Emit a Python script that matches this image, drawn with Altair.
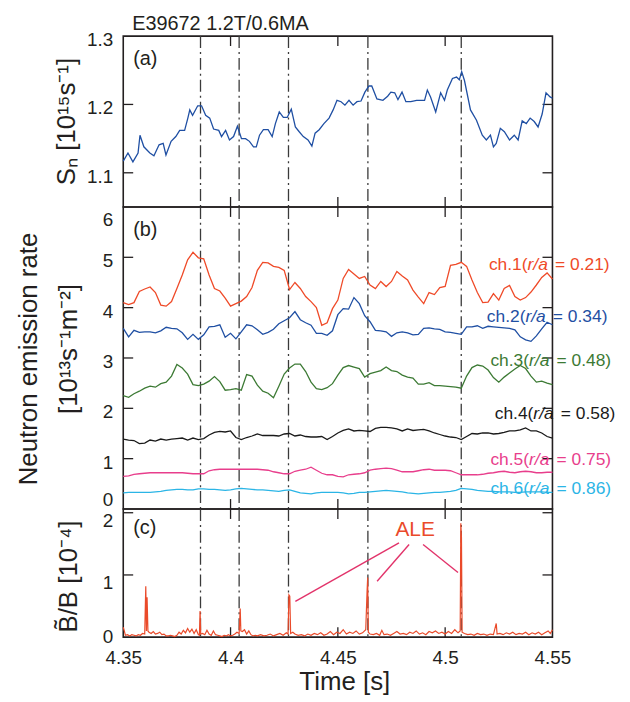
import altair as alt
import pandas as pd

FONT = "Liberation Sans"
INK = "#231f20"

T_DOMAIN = [4.35, 4.55]
W = 432
H_A, H_B, H_C = 172, 304, 129

EVENT_T = [4.386, 4.404, 4.427, 4.464, 4.5075]
XTICKS_INNER = [4.40, 4.45, 4.50]
XLABELS = [4.35, 4.4, 4.45, 4.5, 4.55]

# y tick labels (value, text)
YA_VALS, YA_TXT = [1.1, 1.2, 1.3], ["1.1", "1.2", "1.3"]
YB_VALS, YB_TXT = [1, 2, 3, 4, 5], ["1", "2", "3", "4", "5"]
YB_END_VALS, YB_END_TXT = [0, 6], ["0", "6"]
YC_VALS, YC_TXT = [1, 2], ["1", "2"]
YC_ZERO_VALS, YC_ZERO_TXT = [0], ["0"]

# ---------------- panel (a): total neutron rate ----------------
SN_T = [4.3500, 4.3522, 4.3545, 4.3569, 4.3578, 4.3596, 4.3624, 4.3643, 4.3667, 4.3686,
        4.3699, 4.3723, 4.3745, 4.3763, 4.3786, 4.3801, 4.3810, 4.3823, 4.3847, 4.3865,
        4.3884, 4.3903, 4.3921, 4.3945, 4.3958, 4.3977, 4.3995, 4.4014, 4.4032, 4.4051,
        4.4070, 4.4088, 4.4107, 4.4120, 4.4135, 4.4153, 4.4175, 4.4194, 4.4209, 4.4227,
        4.4246, 4.4264, 4.4283, 4.4302, 4.4320, 4.4339, 4.4361, 4.4379, 4.4394, 4.4413,
        4.4435, 4.4459, 4.4478, 4.4496, 4.4515, 4.4533, 4.4552, 4.4571, 4.4589, 4.4608,
        4.4626, 4.4645, 4.4658, 4.4682, 4.4710, 4.4732, 4.4747, 4.4765, 4.4780, 4.4799,
        4.4817, 4.4840, 4.4867, 4.4904, 4.4917, 4.4932, 4.4956, 4.4979, 4.4997, 4.5010,
        4.5034, 4.5053, 4.5066, 4.5077, 4.5090, 4.5118, 4.5146, 4.5173, 4.5192, 4.5211,
        4.5225, 4.5238, 4.5257, 4.5276, 4.5300, 4.5322, 4.5340, 4.5359, 4.5378, 4.5396,
        4.5415, 4.5433, 4.5452, 4.5470, 4.5489, 4.5500]
SN_V = [1.117, 1.129, 1.116, 1.129, 1.155, 1.138, 1.129, 1.125, 1.141, 1.143,
        1.126, 1.146, 1.153, 1.162, 1.162, 1.180, 1.192, 1.184, 1.198, 1.198,
        1.184, 1.180, 1.164, 1.162, 1.153, 1.162, 1.148, 1.153, 1.168, 1.150,
        1.150, 1.146, 1.138, 1.138, 1.155, 1.163, 1.163, 1.153, 1.172, 1.189,
        1.181, 1.181, 1.193, 1.167, 1.160, 1.153, 1.148, 1.139, 1.158, 1.163,
        1.172, 1.180, 1.192, 1.206, 1.204, 1.199, 1.206, 1.199, 1.204, 1.205,
        1.218, 1.227, 1.227, 1.208, 1.206, 1.212, 1.218, 1.217, 1.207, 1.218,
        1.204, 1.204, 1.206, 1.206, 1.221, 1.211, 1.189, 1.217, 1.206, 1.221,
        1.238, 1.240, 1.236, 1.248, 1.235, 1.192, 1.177, 1.155, 1.148, 1.155,
        1.138, 1.143, 1.165, 1.160, 1.148, 1.155, 1.148, 1.176, 1.172, 1.180,
        1.175, 1.167, 1.186, 1.217, 1.211, 1.209]

# ---------------- panel (b): six channels ----------------
GRID_T = [4.3500, 4.3525, 4.3550, 4.3575, 4.3600, 4.3625, 4.3650, 4.3675, 4.3700, 4.3725,
          4.3750, 4.3775, 4.3800, 4.3825, 4.3850, 4.3875, 4.3900, 4.3925, 4.3950, 4.3975,
          4.4000, 4.4025, 4.4050, 4.4075, 4.4100, 4.4125, 4.4150, 4.4175, 4.4200, 4.4225,
          4.4250, 4.4275, 4.4300, 4.4325, 4.4350, 4.4375, 4.4400, 4.4425, 4.4450, 4.4475,
          4.4500, 4.4525, 4.4550, 4.4575, 4.4600, 4.4625, 4.4650, 4.4675, 4.4700, 4.4725,
          4.4750, 4.4775, 4.4800, 4.4825, 4.4850, 4.4875, 4.4900, 4.4925, 4.4950, 4.4975,
          4.5000, 4.5025, 4.5050, 4.5075, 4.5100, 4.5125, 4.5150, 4.5175, 4.5200, 4.5225,
          4.5250, 4.5275, 4.5300, 4.5325, 4.5350, 4.5375, 4.5400, 4.5425, 4.5450, 4.5475,
          4.5500]
CH1 = [4.10, 4.06, 4.10, 4.32, 4.37, 4.41, 4.30, 4.05, 4.03, 4.12,
       4.38, 4.65, 4.95, 5.10, 4.99, 4.97, 4.65, 4.38, 4.33, 4.19,
       4.03, 4.08, 4.13, 4.22, 4.40, 4.74, 4.90, 4.89, 4.82, 4.80,
       4.74, 4.36, 4.50, 4.38, 4.22, 4.12, 4.00, 3.65, 3.70, 3.98,
       4.15, 4.58, 4.76, 4.67, 4.58, 4.62, 4.45, 4.38, 4.52, 4.42,
       4.52, 4.72, 4.63, 4.55, 4.35, 4.21, 4.08, 4.30, 4.26, 4.40,
       4.42, 4.84, 4.86, 4.90, 4.82, 4.55, 4.30, 4.10, 4.11, 4.28,
       4.15, 4.38, 4.44, 4.22, 4.15, 4.20, 4.31, 4.45, 4.60, 4.69,
       4.57]
CH2 = [3.59, 3.42, 3.55, 3.51, 3.52, 3.52, 3.50, 3.54, 3.61, 3.59,
       3.58, 3.50, 3.37, 3.47, 3.37, 3.46, 3.62, 3.63, 3.66, 3.41,
       3.49, 3.38, 3.52, 3.66, 3.64, 3.56, 3.47, 3.51, 3.57, 3.68,
       3.74, 3.80, 3.92, 3.76, 3.70, 3.65, 3.49, 3.49, 3.45, 3.54,
       3.86, 3.98, 3.97, 4.20, 4.08, 3.84, 3.72, 3.55, 3.54, 3.52,
       3.43, 3.50, 3.52, 3.50, 3.46, 3.47, 3.59, 3.60, 3.58, 3.57,
       3.52, 3.51, 3.49, 3.47, 3.62, 3.62, 3.64, 3.59, 3.63, 3.62,
       3.61, 3.60, 3.59, 3.56, 3.42, 3.36, 3.33, 3.44, 3.58, 3.71,
       3.66]
CH3 = [2.25, 2.22, 2.29, 2.34, 2.40, 2.44, 2.42, 2.49, 2.52, 2.64,
       2.87, 2.80, 2.68, 2.47, 2.45, 2.48, 2.54, 2.63, 2.53, 2.36,
       2.37, 2.39, 2.36, 2.67, 2.64, 2.46, 2.34, 2.30, 2.21, 2.44,
       2.68, 2.80, 2.88, 2.88, 2.73, 2.52, 2.39, 2.37, 2.41, 2.49,
       2.66, 2.81, 2.85, 2.82, 2.79, 2.62, 2.69, 2.72, 2.75, 2.82,
       2.75, 2.73, 2.66, 2.62, 2.60, 2.48, 2.48, 2.51, 2.45, 2.45,
       2.44, 2.43, 2.42, 2.40, 2.64, 2.81, 2.86, 2.84, 2.76, 2.61,
       2.52, 2.62, 2.70, 2.78, 2.85, 2.79, 2.64, 2.52, 2.54, 2.50,
       2.47]
CH4 = [1.39, 1.37, 1.36, 1.30, 1.31, 1.37, 1.35, 1.39, 1.37, 1.39,
       1.40, 1.41, 1.37, 1.41, 1.38, 1.40, 1.47, 1.52, 1.54, 1.53,
       1.55, 1.42, 1.38, 1.42, 1.45, 1.49, 1.46, 1.46, 1.46, 1.45,
       1.49, 1.50, 1.45, 1.47, 1.44, 1.43, 1.43, 1.44, 1.38, 1.44,
       1.51, 1.56, 1.59, 1.55, 1.56, 1.55, 1.54, 1.60, 1.62, 1.62,
       1.61, 1.59, 1.55, 1.59, 1.56, 1.57, 1.58, 1.55, 1.51, 1.48,
       1.45, 1.43, 1.42, 1.38, 1.44, 1.50, 1.49, 1.51, 1.51, 1.49,
       1.50, 1.52, 1.55, 1.55, 1.57, 1.61, 1.55, 1.55, 1.51, 1.44,
       1.41]
CH5 = [0.65, 0.66, 0.69, 0.70, 0.71, 0.72, 0.72, 0.72, 0.72, 0.72,
       0.72, 0.72, 0.71, 0.70, 0.70, 0.70, 0.76, 0.78, 0.79, 0.79,
       0.79, 0.79, 0.79, 0.79, 0.79, 0.79, 0.78, 0.77, 0.74, 0.72,
       0.70, 0.70, 0.75, 0.77, 0.79, 0.83, 0.77, 0.71, 0.68, 0.68,
       0.65, 0.64, 0.68, 0.69, 0.70, 0.72, 0.77, 0.79, 0.80, 0.81,
       0.80, 0.77, 0.74, 0.74, 0.74, 0.76, 0.78, 0.79, 0.77, 0.77,
       0.77, 0.76, 0.72, 0.68, 0.68, 0.68, 0.68, 0.69, 0.71, 0.72,
       0.74, 0.75, 0.73, 0.72, 0.74, 0.75, 0.74, 0.72, 0.72, 0.73,
       0.73]
CH6 = [0.32, 0.33, 0.33, 0.33, 0.33, 0.33, 0.34, 0.35, 0.37, 0.38,
       0.39, 0.39, 0.38, 0.38, 0.40, 0.40, 0.39, 0.39, 0.38, 0.37,
       0.38, 0.40, 0.41, 0.40, 0.39, 0.38, 0.38, 0.37, 0.36, 0.35,
       0.37, 0.38, 0.35, 0.32, 0.31, 0.30, 0.32, 0.33, 0.33, 0.33,
       0.33, 0.32, 0.30, 0.31, 0.33, 0.33, 0.34, 0.35, 0.36, 0.37,
       0.36, 0.35, 0.34, 0.32, 0.31, 0.30, 0.31, 0.32, 0.33, 0.33,
       0.34, 0.35, 0.37, 0.41, 0.40, 0.39, 0.37, 0.36, 0.35, 0.35,
       0.34, 0.34, 0.34, 0.33, 0.33, 0.34, 0.34, 0.34, 0.34, 0.33,
       0.33]
CH_NAMES = ["ch.1", "ch.2", "ch.3", "ch.4", "ch.5", "ch.6"]
CH_COLORS = ["#ef4a28", "#1f4fa3", "#3c7a34", "#1a1a1a", "#e83e8c", "#2bb5e6"]
CH_RA = ["0.21", "0.34", "0.48", "0.58", "0.75", "0.86"]
LABEL_T = [4.5204, 4.5194, 4.5211, 4.5231, 4.5211, 4.5211]
LABEL_V = [4.84, 3.81, 2.93, 1.89, 0.97, 0.40]

# ---------------- panel (c): magnetic fluctuation ----------------
DB_T = [4.3500, 4.3505, 4.3510, 4.3520, 4.3530, 4.3540, 4.3550, 4.3560, 4.3570, 4.3580,
        4.3590, 4.3600, 4.3605, 4.3608, 4.3611, 4.3615, 4.3620, 4.3630, 4.3640, 4.3650,
        4.3660, 4.3670, 4.3680, 4.3690, 4.3700, 4.3710, 4.3720, 4.3730, 4.3740, 4.3750,
        4.3760, 4.3770, 4.3780, 4.3790, 4.3800, 4.3810, 4.3820, 4.3830, 4.3840, 4.3850,
        4.3855, 4.3858, 4.3861, 4.3870, 4.3880, 4.3890, 4.3900, 4.3910, 4.3920, 4.3930,
        4.3940, 4.3950, 4.3960, 4.3970, 4.3980, 4.3990, 4.4000, 4.4010, 4.4020, 4.4030,
        4.4040, 4.4045, 4.4048, 4.4055, 4.4065, 4.4075, 4.4085, 4.4095, 4.4105, 4.4115,
        4.4125, 4.4140, 4.4155, 4.4170, 4.4185, 4.4200, 4.4215, 4.4230, 4.4245, 4.4260,
        4.4268, 4.4272, 4.4276, 4.4280, 4.4290, 4.4300, 4.4315, 4.4330, 4.4345, 4.4360,
        4.4375, 4.4390, 4.4405, 4.4420, 4.4435, 4.4450, 4.4465, 4.4480, 4.4495, 4.4510,
        4.4525, 4.4540, 4.4555, 4.4570, 4.4585, 4.4600, 4.4615, 4.4630, 4.4636, 4.4639,
        4.4642, 4.4650, 4.4665, 4.4680, 4.4695, 4.4705, 4.4715, 4.4730, 4.4745, 4.4760,
        4.4775, 4.4790, 4.4805, 4.4820, 4.4835, 4.4850, 4.4865, 4.4880, 4.4895, 4.4910,
        4.4925, 4.4940, 4.4955, 4.4970, 4.4985, 4.5000, 4.5015, 4.5030, 4.5045, 4.5060,
        4.5070, 4.5073, 4.5076, 4.5079, 4.5090, 4.5105, 4.5120, 4.5135, 4.5150, 4.5165,
        4.5180, 4.5195, 4.5210, 4.5225, 4.5238, 4.5242, 4.5255, 4.5270, 4.5285, 4.5300,
        4.5315, 4.5330, 4.5345, 4.5360, 4.5375, 4.5390, 4.5405, 4.5420, 4.5435, 4.5450,
        4.5465, 4.5480, 4.5490, 4.5500]
DB_V = [0.16, 0.10, 0.03, 0.04, 0.02, 0.04, 0.03, 0.02, 0.04, 0.03,
        0.06, 0.05, 0.82, 0.10, 0.64, 0.10, 0.08, 0.06, 0.09, 0.05,
        0.06, 0.08, 0.04, 0.05, 0.02, 0.02, 0.03, 0.02, 0.01, 0.03,
        0.08, 0.05, 0.11, 0.07, 0.14, 0.08, 0.13, 0.06, 0.12, 0.04,
        0.03, 0.42, 0.05, 0.06, 0.04, 0.11, 0.05, 0.03, 0.10, 0.04,
        0.03, 0.02, 0.01, 0.03, 0.02, 0.04, 0.02, 0.03, 0.05, 0.08,
        0.06, 0.46, 0.10, 0.09, 0.12, 0.05, 0.10, 0.04, 0.02, 0.03,
        0.02, 0.04, 0.02, 0.03, 0.05, 0.02, 0.04, 0.06, 0.03, 0.07,
        0.05, 0.68, 0.66, 0.06, 0.08, 0.05, 0.03, 0.04, 0.02, 0.05,
        0.03, 0.06, 0.04, 0.07, 0.03, 0.05, 0.09, 0.04, 0.08, 0.06,
        0.12, 0.05, 0.08, 0.06, 0.10, 0.05, 0.07, 0.12, 0.72, 0.96,
        0.08, 0.05, 0.04, 0.06, 0.03, 0.11, 0.04, 0.05, 0.03, 0.06,
        0.09, 0.05, 0.06, 0.04, 0.08, 0.06, 0.10, 0.05, 0.07, 0.04,
        0.09, 0.07, 0.10, 0.06, 0.08, 0.05, 0.09, 0.06, 0.12, 0.07,
        0.10, 1.83, 1.60, 0.08, 0.06, 0.04, 0.05, 0.03, 0.06, 0.04,
        0.05, 0.03, 0.05, 0.04, 0.22, 0.05, 0.06, 0.04, 0.07, 0.05,
        0.08, 0.04, 0.06, 0.05, 0.08, 0.04, 0.07, 0.05, 0.08, 0.04,
        0.07, 0.10, 0.06, 0.12]

ALE_TEXT_T, ALE_TEXT_V = [4.486], [1.72]
ALE_T1 = [4.4785, 4.4832, 4.4897]
ALE_V1 = [1.515, 1.49, 1.49]
ALE_T2 = [4.4302, 4.4683, 4.5060]
ALE_V2 = [0.574, 0.90, 1.04]

xs = alt.Scale(domain=T_DOMAIN, nice=False, zero=False)

X_NOLABEL = alt.Axis(values=XTICKS_INNER, labels=False, ticks=False, domain=False, grid=False, title=None)
X_LABELED = alt.Axis(values=XLABELS, format=".2~f", ticks=False, domain=False, grid=False,
                     labelPadding=12, labelFlush=False, labelOverlap=False, title=None,
                     labelFont=FONT, labelFontSize=19, labelColor=INK)


def frame_layers(ys, xax, yticks, h):
    """event lines and inward tick marks, all placed through the scales"""
    xt = pd.DataFrame({"t": XTICKS_INNER})
    yt = pd.DataFrame({"v": yticks})
    ev = pd.DataFrame({"t": EVENT_T})
    tick_style = dict(color=INK, strokeWidth=1.3)
    X = lambda: alt.X("t:Q", scale=xs, axis=xax)
    Y = lambda: alt.Y("v:Q", scale=ys, axis=None)
    return [
        alt.Chart(ev).mark_rule(color="#3a3a3a", strokeWidth=1.3, strokeDash=[12, 4, 2, 4]).encode(
            x=X(), y=alt.value(0), y2=alt.value(h)),
        alt.Chart(xt).mark_rule(**tick_style).encode(x=X(), y=alt.value(0), y2=alt.value(10)),
        alt.Chart(xt).mark_rule(**tick_style).encode(x=X(), y=alt.value(h - 10), y2=alt.value(h)),
        alt.Chart(yt).mark_rule(**tick_style).encode(y=Y(), x=alt.value(0), x2=alt.value(10)),
        alt.Chart(yt).mark_rule(**tick_style).encode(y=Y(), x=alt.value(W - 10), x2=alt.value(W)),
    ]


def ylabels(ys, vals, texts, dy):
    df = pd.DataFrame({"v": vals, "s": texts})
    return alt.Chart(df).mark_text(align="right", baseline="middle", font=FONT, fontSize=19,
                                   color=INK, dx=-10, dy=dy).encode(
        y=alt.Y("v:Q", scale=ys, axis=None), x=alt.value(0), text="s:N")


def txt(text, x, y, size=19, angle=None, align="left", baseline="middle", color=INK, style=None):
    kw = dict(text=text, font=FONT, fontSize=size, align=align, baseline=baseline, color=color)
    if angle is not None:
        kw["angle"] = angle
    if style:
        kw["fontStyle"] = style
    return alt.Chart(pd.DataFrame({"d": [0]})).mark_text(**kw).encode(
        x=alt.value(x), y=alt.value(y))


# ---- panel a
ys_a = alt.Scale(domain=[1.05, 1.3], nice=False, zero=False)
df_a = pd.DataFrame({"t": SN_T, "v": SN_V})
line_a = alt.Chart(df_a).mark_line(color="#1f4fa3", strokeWidth=1.3).encode(
    x=alt.X("t:Q", scale=xs, axis=X_NOLABEL),
    y=alt.Y("v:Q", scale=ys_a, axis=None))
panel_a = alt.layer(
    *frame_layers(ys_a, X_NOLABEL, [1.1, 1.2], H_A), line_a,
    ylabels(ys_a, YA_VALS, YA_TXT, 4),
    txt("(a)", 10, 23, size=20),
    txt("E39672 1.2T/0.6MA", 9, -6, size=20, baseline="alphabetic"),
    txt("Sₙ [10¹⁵s⁻¹]", -49, H_A / 2, size=26, angle=270, align="center", baseline="alphabetic"),
).properties(width=W, height=H_A)

# ---- panel b
ys_b = alt.Scale(domain=[0, 6], nice=False, zero=False)
chans = [CH1, CH2, CH3, CH4, CH5, CH6]
rows = []
for name, vals in zip(CH_NAMES, chans):
    for t, v in zip(GRID_T, vals):
        rows.append({"t": t, "v": v, "ch": name})
df_b = pd.DataFrame(rows)
lines_b = alt.Chart(df_b).mark_line(strokeWidth=1.3).encode(
    x=alt.X("t:Q", scale=xs, axis=X_NOLABEL),
    y=alt.Y("v:Q", scale=ys_b, axis=None),
    color=alt.Color("ch:N", scale=alt.Scale(domain=CH_NAMES, range=CH_COLORS), legend=None),
    detail="ch:N")

lab = pd.DataFrame({
    "t": LABEL_T, "v": LABEL_V,
    "p1": [n + "(" for n in CH_NAMES],
    "p2": ["r/a"] * 6,
    "p3": ["= " + r + ")" for r in CH_RA],
    "col": CH_COLORS,
})
LFS = 17.5


def lab_layer(field, dx, style=None):
    kw = dict(align="left", baseline="middle", font=FONT, fontSize=LFS, dx=dx)
    if style:
        kw["fontStyle"] = style
    return alt.Chart(lab).mark_text(**kw).encode(
        x=alt.X("t:Q", scale=xs, axis=X_NOLABEL), y=alt.Y("v:Q", scale=ys_b, axis=None),
        text=f"{field}:N", color=alt.Color("col:N", scale=None))


panel_b = alt.layer(
    *frame_layers(ys_b, X_NOLABEL, [1, 2, 3, 4, 5], H_B), lines_b,
    lab_layer("p1", 0), lab_layer("p2", 38.9, "italic"), lab_layer("p3", 66.5),
    ylabels(ys_b, YB_VALS, YB_TXT, 4),
    ylabels(ys_b, YB_END_VALS[:1], YB_END_TXT[:1], -9),
    ylabels(ys_b, YB_END_VALS[1:], YB_END_TXT[1:], 13),
    txt("(b)", 10, 23, size=20),
    txt("Neutron emission rate", -87, 153, size=26, angle=270, align="center", baseline="alphabetic"),
    txt("[10¹³s⁻¹m⁻²]", -47, 143, size=26, angle=270, align="center", baseline="alphabetic"),
).properties(width=W, height=H_B)

# ---- panel c
ys_c = alt.Scale(domain=[0, 2.06], nice=False, zero=False)
df_c = pd.DataFrame({"t": DB_T, "v": DB_V})
line_c = alt.Chart(df_c).mark_line(color="#ea4a2a", strokeWidth=1.2).encode(
    x=alt.X("t:Q", scale=xs, axis=X_LABELED),
    y=alt.Y("v:Q", scale=ys_c, axis=None))
ale_df = pd.DataFrame({"t": ALE_T1, "v": ALE_V1, "t2": ALE_T2, "v2": ALE_V2})
ale_lines = alt.Chart(ale_df).mark_rule(color="#e2336a", strokeWidth=1.4).encode(
    x=alt.X("t:Q", scale=xs, axis=X_LABELED), y=alt.Y("v:Q", scale=ys_c, axis=None),
    x2="t2:Q", y2="v2:Q")
ale_txt = alt.Chart(pd.DataFrame({"t": ALE_TEXT_T, "v": ALE_TEXT_V})).mark_text(
    text="ALE", font=FONT, fontSize=21, color="#ea4a2a", align="center", baseline="middle").encode(
    x=alt.X("t:Q", scale=xs, axis=X_LABELED), y=alt.Y("v:Q", scale=ys_c, axis=None))
panel_c = alt.layer(
    *frame_layers(ys_c, X_LABELED, [1, 2], H_C), line_c, ale_lines, ale_txt,
    ylabels(ys_c, YC_VALS, YC_TXT, 8),
    ylabels(ys_c, YC_ZERO_VALS, YC_ZERO_TXT, 0),
    txt("(c)", 10, 19, size=20),
    txt("B̃/B [10⁻⁴]", -47, 68, size=26, angle=270, align="center", baseline="alphabetic"),
    txt("Time [s]", 223, 182, size=26, align="center", baseline="alphabetic"),
).properties(width=W, height=H_C)

chart = alt.vconcat(panel_a, panel_b, panel_c, spacing=0, bounds="flush").properties(
    padding={"left": 7, "top": 3, "right": 5, "bottom": 5}
).configure_view(stroke=INK, strokeWidth=1.6).configure_axis(grid=False)

chart.save("out.html", embed_options={"renderer": "svg", "actions": False})
